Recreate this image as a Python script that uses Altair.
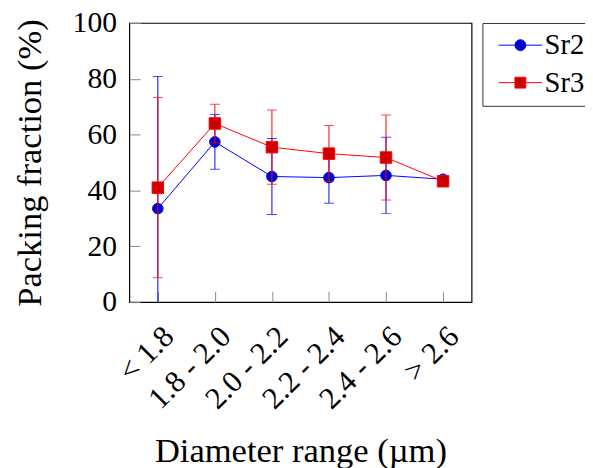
import altair as alt
import pandas as pd

categories = ["< 1.8", "1.8 - 2.0", "2.0 - 2.2", "2.2 - 2.4", "2.4 - 2.6", "> 2.6"]
series_names = ["Sr2", "Sr3"]
sr2_mean = [33.5, 57.4, 45.0, 44.6, 45.4, 44.0]
sr2_err = [47.3, 9.8, 13.6, 9.2, 13.7, 0.4]
sr3_mean = [41.0, 64.0, 55.5, 53.2, 51.8, 43.3]
sr3_err = [32.3, 6.9, 13.3, 10.1, 15.2, 0.4]

line_colors = ["#0000FF", "#FF0000"]
fill_colors = ["#0000CC", "#CC0000"]
shapes = ["circle", "square"]
sizes = [115, 135]

rows = []
for name, means, errs in [("Sr2", sr2_mean, sr2_err), ("Sr3", sr3_mean, sr3_err)]:
    for c, m, e in zip(categories, means, errs):
        rows.append({"series": name, "range": c, "value": m, "lo": m - e, "hi": m + e})
df = pd.DataFrame(rows)

FONT = "Liberation Serif, Times New Roman, serif"

x_enc = alt.X(
    "range:N",
    sort=categories,
    scale=alt.Scale(type="point", padding=0.5),
    axis=alt.Axis(
        title="Diameter range (µm)",
        labelFont=FONT,
        labelFontSize=31,
        labelColor="black",
        labelAngle=-45,
        labelAlign="right",
        labelBaseline="middle",
        labelOffset=11,
        labelPadding=30,
        offset=-11,
        tickSize=11,
        tickColor="#888888",
        domain=False,
        titleFont=FONT,
        titleBaseline="alphabetic",
        titleY=173,
        titleFontSize=35,
    ),
)
y_enc = alt.Y(
    "value:Q",
    scale=alt.Scale(domain=[0, 100], nice=False),
    axis=alt.Axis(
        title="Packing fraction (%)",
        values=[0, 20, 40, 60, 80, 100],
        labelFont=FONT,
        labelFontSize=30,
        labelColor="black",
        offset=-11,
        tickSize=11,
        tickColor="#888888",
        domain=False,
        labelPadding=13,
        titleFont=FONT,
        titleBaseline="alphabetic",
        titleAngle=-90,
        titleX=-101,
        titleFontSize=35,
    ),
)

layers = []
for i, name in enumerate(series_names):
    base = alt.Chart(df).transform_filter(alt.datum.series == name)
    line = base.mark_line(color=line_colors[i], strokeWidth=1).encode(x=x_enc, y=y_enc)
    rule = base.mark_rule(color=line_colors[i], strokeWidth=1, clip=True).encode(
        x=x_enc, y=alt.Y("lo:Q"), y2="hi:Q"
    )
    cap_lo = base.mark_tick(color=line_colors[i], thickness=1, size=10, orient="horizontal", clip=True).encode(
        x=x_enc, y=alt.Y("lo:Q")
    )
    cap_hi = base.mark_tick(color=line_colors[i], thickness=1, size=10, orient="horizontal", clip=True).encode(
        x=x_enc, y=alt.Y("hi:Q")
    )
    pts = base.mark_point(
        shape=shapes[i], filled=True, fill=fill_colors[i], stroke=line_colors[i],
        strokeWidth=1, size=sizes[i], opacity=1,
    ).encode(x=x_enc, y=y_enc)
    layers += [line, rule, cap_lo, cap_hi, pts]

circle_path = "M-4,0H-1M1,0H4M-1,0A1,1 0 1,0 1,0A1,1 0 1,0 -1,0Z"
square_path = "M-4,0H-1M1,0H4M-1,-1H1V1H-1Z"

leg = alt.Legend(
    title=None, orient="right", offset=11,
    strokeColor="#333333", padding=8,
    symbolSize=121, symbolStrokeWidth=1, symbolOpacity=1,
    symbolOffset=16, labelOffset=10,
    labelFont=FONT, labelFontSize=29, labelColor="black",
    rowPadding=8,
)

legend_layer = alt.Chart(df).transform_filter("false").mark_point(
    filled=True, opacity=1, strokeWidth=1
).encode(
    x=x_enc,
    y=y_enc,
    fill=alt.Fill("series:N", scale=alt.Scale(domain=series_names, range=fill_colors), legend=leg),
    stroke=alt.Stroke("series:N", scale=alt.Scale(domain=series_names, range=line_colors), legend=leg),
    shape=alt.Shape("series:N", scale=alt.Scale(domain=series_names, range=[circle_path, square_path]), legend=leg),
)
layers.append(legend_layer)

chart = alt.layer(*layers).properties(
    width=347, height=283,
    autosize=alt.AutoSizeParams(type="none"),
    padding={"left": 123, "top": 12, "right": 115, "bottom": 165},
).configure_view(
    stroke="black", strokeWidth=1.2
).configure_axis(
    grid=False,
    labelFont=FONT, labelColor="black",
    titleFont=FONT, titleFontWeight="normal", titleColor="black",
).configure_legend(
    labelFont=FONT,
)

chart.save("out.html", embed_options={"renderer": "svg", "actions": False})
